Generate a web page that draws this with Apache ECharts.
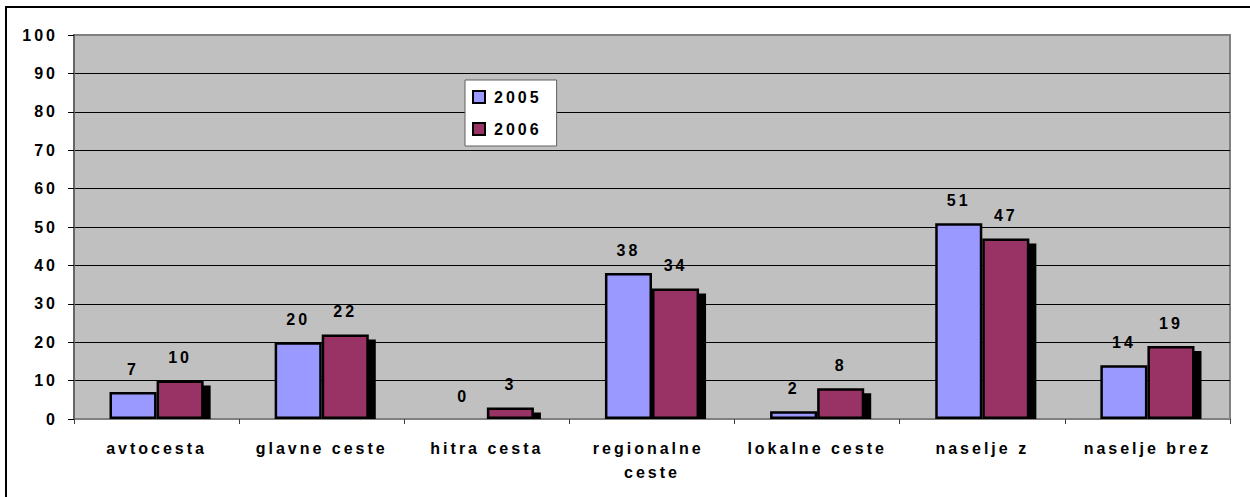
<!DOCTYPE html>
<html><head><meta charset="utf-8">
<script src="https://cdn.jsdelivr.net/npm/echarts@6/dist/echarts.min.js"></script>
<style>
html,body{margin:0;padding:0;overflow:hidden;background:#fff;}
#frame{position:absolute;left:5px;top:6px;width:1400px;height:700px;border-left:2px solid #000;border-top:2px solid #000;box-sizing:border-box;}
#main{position:absolute;left:0;top:0;width:1250px;height:497px;letter-spacing:3px;}
</style></head><body>
<div id="frame"></div><div id="main"></div>
<script>
const categories = ['avtocesta','glavne ceste','hitra cesta','regionalne ceste','lokalne ceste','naselje z','naselje brez'];
const seriesNames = ['2005','2006'];
const values2005 = [7,20,0,38,2,51,14];
const values2006 = [10,22,3,34,8,47,19];

const BAR_FRAC = 0.285;
const SH = 6;
const FONT = 'Liberation Sans, Arial, sans-serif';

// zero-height bars are drawn without an outline (as in the original)
const toItems = arr => arr.map(v => v === 0 ? {value:v, itemStyle:{borderWidth:0}} : v);

const labelStyle = {show:true,position:'top',distance:15,fontSize:16,fontWeight:'bold',color:'#000',fontFamily:FONT};

const chart = echarts.init(document.getElementById('main'), null, {renderer:'svg'});
chart.setOption({
  animation:false,
  textStyle:{fontFamily:FONT},
  grid:{left:74,right:20,top:35,bottom:78,show:true,backgroundColor:'#C0C0C0',borderColor:'#808080',borderWidth:2},
  legend:{
    data:seriesNames, orient:'vertical', left:465, top:80,
    backgroundColor:'#fff', borderColor:'#606060', borderWidth:1,
    padding:[9,27,9,7], itemWidth:12, itemHeight:12, itemGap:16,
    icon:'rect',
    itemStyle:{borderColor:'#000',borderWidth:2,shadowColor:'transparent',shadowBlur:0,shadowOffsetX:0,shadowOffsetY:0},
    textStyle:{fontSize:16,fontWeight:'bold',color:'#000',fontFamily:FONT,padding:[0,0,0,4]}
  },
  xAxis:{
    type:'category', data:categories,
    axisLine:{show:true,lineStyle:{color:'#808080',width:1}},
    axisTick:{show:true,length:5,lineStyle:{color:'#404040'}},
    axisLabel:{interval:0,margin:17,fontSize:16,fontWeight:'bold',color:'#000',lineHeight:24,width:120,overflow:'break',fontFamily:FONT},
    splitLine:{show:false}
  },
  yAxis:{
    type:'value', min:0, max:100, interval:10,
    axisLine:{show:true,lineStyle:{color:'#666',width:2}},
    axisTick:{show:true,length:6,lineStyle:{color:'#000'}},
    axisLabel:{margin:16,fontSize:16,fontWeight:'bold',color:'#000',fontFamily:FONT},
    splitLine:{show:true,showMinLine:false,showMaxLine:false,lineStyle:{color:'#000',width:1}}
  },
  series:[
    {
      type:'custom', name:'shadow', silent:true, z:1,
      data: values2006.map((v,i)=>[i,v]),
      renderItem(params, api){
        const i = api.value(0), v = api.value(1);
        const top = api.coord([i, v]);
        const base = api.coord([i, 0]);
        const cw = api.size([1,0])[0];
        const bw = cw * BAR_FRAC;
        const y0 = top[1] - 1 + SH;
        const h = base[1] - y0;
        if (h <= 0) return null;
        return {type:'rect', shape:{x: top[0] + SH, y: y0, width: bw + 1, height: h}, style:{fill:'#000'}};
      }
    },
    {
      type:'bar', name:seriesNames[0], data:toItems(values2005), barWidth:'28.5%', barGap:'0%', z:2,
      itemStyle:{color:'#9999FF',borderColor:'#000',borderWidth:2.5},
      label:labelStyle
    },
    {
      type:'bar', name:seriesNames[1], data:toItems(values2006), barWidth:'28.5%', barGap:'0%', z:2,
      itemStyle:{color:'#993366',borderColor:'#000',borderWidth:2.5},
      label:labelStyle
    }
  ]
});
</script>
</body></html>
